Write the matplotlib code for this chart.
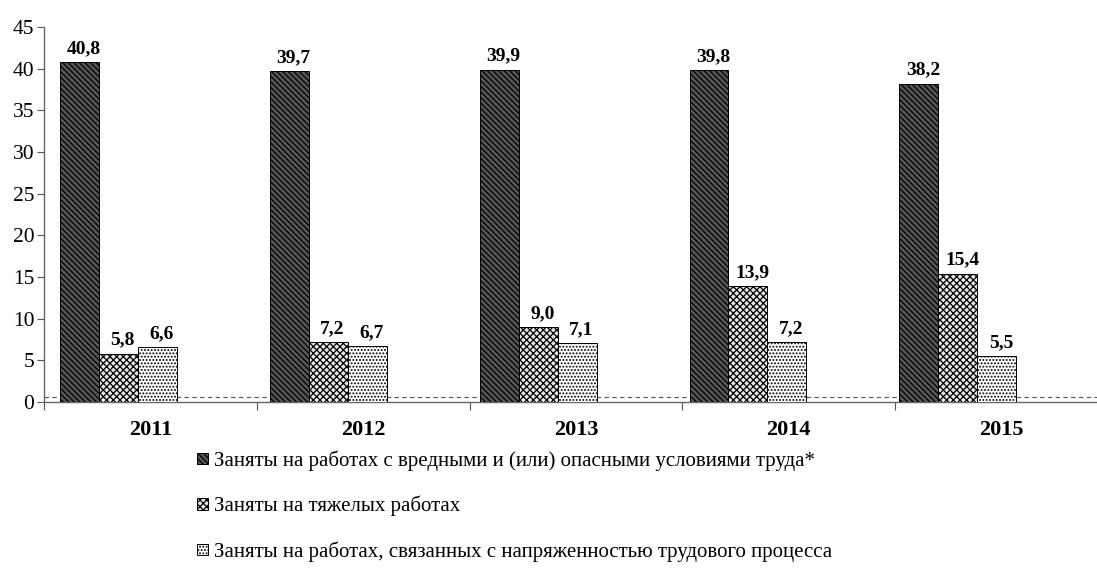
import matplotlib
matplotlib.use("Agg")
import matplotlib.pyplot as plt
import numpy as np

years = ["2011", "2012", "2013", "2014", "2015"]
harmful = [40.8, 39.7, 39.9, 39.8, 38.2]
heavy = [5.8, 7.2, 9.0, 13.9, 15.4]
tension = [6.6, 6.7, 7.1, 7.2, 5.5]
series_labels = [
    "Заняты на работах с вредными и (или) опасными условиями труда*",
    "Заняты на тяжелых работах",
    "Заняты на работах, связанных с напряженностью трудового процесса",
]
y_ticks = [0, 5, 10, 15, 20, 25, 30, 35, 40, 45]

plt.rcParams['font.family'] = ['Liberation Serif', 'DejaVu Serif']
plt.rcParams['hatch.linewidth'] = 0.9

W, H = 1097, 579
fig = plt.figure(figsize=(W / 100, H / 100), dpi=100)
ax = fig.add_axes([44 / W, (H - 402) / H, 1064 / W, 375 / H])

n = len(years)
idx = np.arange(n)
centers = idx * 0.986 - 0.15
bw = 0.183
hatches = ['\\\\\\\\\\\\', 'xxxxx', '.....']
faces = ['#555555', '#e6e6e6', 'white']
all_series = [harmful, heavy, tension]

# floor line
ax.axhline(0.6, color='#555555', lw=0.8, ls=(0, (4, 3)), zorder=1)

for k, vals in enumerate(all_series):
    xs = centers + (k - 1) * bw
    ax.bar(xs, vals, width=bw, color=faces[k], edgecolor='black',
           hatch=hatches[k], lw=0.7, zorder=3, label=series_labels[k])
    for x, v in zip(xs, vals):
        ax.text(x + 0.02, v + 0.6, f"{v:.1f}".replace('.', ','), ha='center',
                va='bottom', fontsize=14, fontweight='bold', zorder=4)

ax.set_xlim(-0.5, n - 0.5)
ax.set_ylim(0, 45)
ax.set_yticks(y_ticks)
ax.set_yticklabels([str(t) for t in y_ticks], fontsize=15.5)
ax.set_xticks(np.arange(n + 1) - 0.5)
ax.set_xticklabels([])
ax.set_xticks(idx, minor=True)
ax.set_xticklabels(years, minor=True, fontsize=16, fontweight='bold')
ax.tick_params(axis='x', which='minor', length=0, pad=13)
ax.tick_params(axis='x', which='major', length=6, direction='out', color='#555555')
ax.tick_params(axis='y', length=5, direction='out', color='#555555', pad=2)
for s in ['top', 'right']:
    ax.spines[s].set_visible(False)
for s in ['left', 'bottom']:
    ax.spines[s].set_color('#666666')
    ax.spines[s].set_linewidth(1.0)

handles, labels = ax.get_legend_handles_labels()
fig.legend(handles, labels, loc='upper left', bbox_to_anchor=(187 / W, 1 - 440 / H),
           frameon=False, fontsize=15, handlelength=0.5, handleheight=0.5,
           handletextpad=0.3, labelspacing=1.2, borderpad=0)

fig.savefig("out.png", dpi=100)
